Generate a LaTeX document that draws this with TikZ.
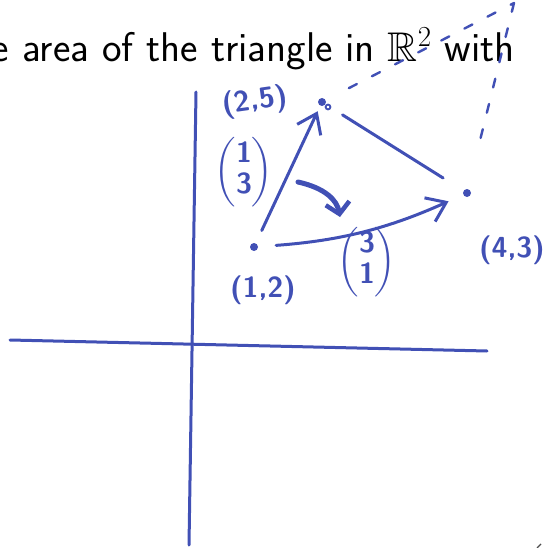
\RequirePackage{fix-cm}
\documentclass[tikz,border=0pt]{standalone}
\usepackage{amsmath, amssymb}
\usepackage{tikz}
\usetikzlibrary{positioning, arrows.meta, calc}
\definecolor{ink}{HTML}{4150B5}

\begin{document}
\begin{tikzpicture}[x=1pt, y=-1pt,
        pen/.style={draw=ink, line width=3pt, line cap=round},
        dot/.style={circle, fill=ink, inner sep=0pt, minimum size=8pt},
        hand/.style={text=ink, inner sep=0pt, font=\fontsize{29}{31}\selectfont\sffamily\bfseries},
        barb/.style={-{Straight Barb[length=18pt, width=26pt, line width=3pt]}},
        ghost/.style={draw=ink, line width=2.4pt, line cap=round, dash pattern=on 9pt off 17pt}]
      \useasboundingbox (0,0) rectangle (543,548);
      \node[anchor=base east, inner sep=0pt, font=\fontsize{41.5}{46}\selectfont\sffamily] (title) at (515,62)
        {e area of the triangle in $\mathbb{R}^2$ with};
      % axes
      \coordinate (yt) at (196,92);
      \coordinate (yb) at (189,545);
      \coordinate (xl) at (10,340);
      \coordinate (xr) at (487,351);
      \draw[pen] (yt) -- (yb);
      \draw[pen] (xl) -- (xr);
      % points
      \node[dot] (a) at (254,247) {};
      \node[dot] (b) at (322,102) {};
      \node[dot] (c) at (467,193) {};
      \draw[draw=ink, line width=1.8pt] ($(b)+(6,5)$) circle (2.4);
      \node[hand, below=24pt of a, xshift=9pt] (la) {(1,2)};
      \node[hand, rotate=8] (lb) at (255,102) {(2,5)};
      \node[hand, below=38pt of c, xshift=45pt] (lc) {(4,3)};
      % vectors
      \draw[pen, barb, shorten <=14pt, shorten >=6pt] (a) -- (b);
      \draw[pen, shorten <=20pt, shorten >=24pt] (b) -- (c);
      \draw[pen, barb, shorten <=18pt, shorten >=16pt] (a) to[bend right=10] (c);
      \node[hand] (v13) at (244,172) {$\begin{pmatrix}\textbf{1}\\ \textbf{3}\end{pmatrix}$};
      \node[hand] (v31) at (367,262) {$\begin{pmatrix}\textbf{3}\\ \textbf{1}\end{pmatrix}$};
      % turning arrow
      \coordinate (ts) at (298,182);
      \coordinate (te) at (340,217);
      \draw[pen, line width=5pt, -{Straight Barb[length=11pt, width=24pt, line width=4.5pt]}]
        (ts) .. controls (325,188) and (337,200) .. (te);
      % fourth corner
      \coordinate (d) at (514,3);
      \draw[ghost, shorten <=26pt] (b) -- (d);
      \draw[ghost, shorten >=36pt] (d) -- (c);
      \draw[black!70, line width=1.2pt] (537,548) -- (541,544);
    \end{tikzpicture}
\end{document}
